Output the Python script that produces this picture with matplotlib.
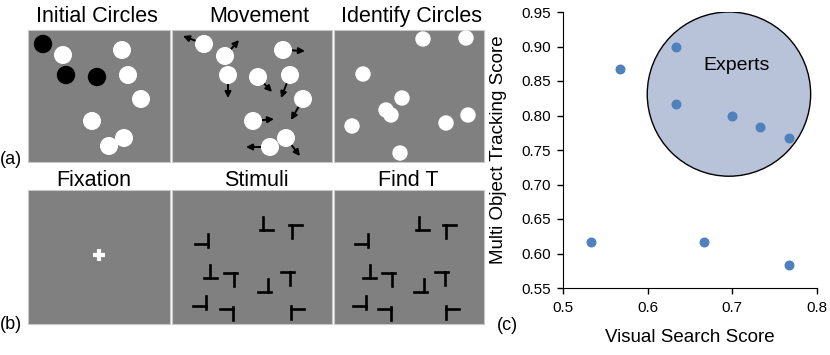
import matplotlib
matplotlib.use("Agg")
import matplotlib.pyplot as plt
from matplotlib.patches import Rectangle, Circle, Ellipse, FancyArrowPatch

plt.rcParams['font.family'] = ['Liberation Sans', 'DejaVu Sans']

# scatter data (panel c)
visual_search = [0.533, 0.567, 0.633, 0.633, 0.667, 0.700, 0.733, 0.767, 0.767]
mot_score = [0.617, 0.867, 0.900, 0.817, 0.617, 0.800, 0.783, 0.767, 0.583]
x_ticks = [0.5, 0.6, 0.7, 0.8]
y_ticks = [0.55, 0.60, 0.65, 0.70, 0.75, 0.80, 0.85, 0.90, 0.95]
experts_center = (0.696, 0.831)
experts_size = (0.193, 0.238)

# schematic panels (a) and (b), pixel positions on the 830x355 canvas
panel_x = [(28, 170), (172, 332), (334, 484)]
row_a_y = (30, 162)
row_b_y = (190, 324)
titles_a = ["Initial Circles", "Movement", "Identify Circles"]
titles_b = ["Fixation", "Stimuli", "Find T"]
title_x = [97, 259, 411]

# initial circles: targets in black
init_black_x = [43, 66, 97]
init_black_y = [44, 75, 77]
init_white_x = [63, 122, 128, 141, 92, 124, 109]
init_white_y = [55, 50, 75, 99, 121, 138, 146]

# movement: circle centres and arrow tips
move_x = [204, 225, 228, 258, 283, 290, 303, 253, 286, 270]
move_y = [44, 56, 75, 77, 50, 75, 99, 121, 138, 147]
tip_x = [183, 239, 228, 272, 305, 281, 291, 274, 300, 246]
tip_y = [36, 40, 98, 92, 51, 98, 120, 119, 156, 147]

# identify circles
ident_x = [423, 466, 363, 402, 386, 391, 352, 446, 468, 400]
ident_y = [39, 38, 74, 98, 110, 115, 126, 123, 115, 153]

# fixation cross
fix_x, fix_y = 99, 255

# T / L glyphs in the "Stimuli" panel: bar centre, bar orientation,
# stem direction, stem offset along the bar
glyph_x = [266.5, 295.5, 208, 210, 230.5, 264.5, 287, 206, 233, 291]
glyph_y = [230, 225, 240.5, 278, 273, 292, 272, 302.5, 313, 312.5]
glyph_bar = ['h', 'h', 'v', 'h', 'h', 'h', 'h', 'v', 'v', 'v']
glyph_dir = [-1, 1, -1, -1, 1, -1, 1, -1, -1, 1]
glyph_off = [-3.5, -3.5, 3.5, 0, 3.5, 3.5, 3, 3.5, -4, -3.5]

panel_gray = '#808080'
dot_blue = '#4f81bd'
expert_fill = '#b8c2d9'

fig = plt.figure(figsize=(8.3, 3.55), dpi=100)

# canvas axes in pixel coordinates for the image panels
ax0 = fig.add_axes([0, 0, 1, 1])
ax0.set_xlim(0, 830)
ax0.set_ylim(355, 0)
ax0.axis('off')

for (x0, x1) in panel_x:
    for (y0, y1) in (row_a_y, row_b_y):
        ax0.add_patch(Rectangle((x0, y0), x1 - x0, y1 - y0, facecolor=panel_gray,
                                edgecolor='#c8c8c8', lw=0.8, zorder=1))

for t, tx in zip(titles_a, title_x):
    ax0.text(tx, 22, t, ha='center', va='baseline', fontsize=15.5)
for t, tx in zip(titles_b, title_x):
    ax0.text(tx - 3, 186, t, ha='center', va='baseline', fontsize=15.5)

ax0.text(0, 164, "(a)", ha='left', va='baseline', fontsize=13)
ax0.text(0, 329, "(b)", ha='left', va='baseline', fontsize=13)

# initial circles
for x, y in zip(init_white_x, init_white_y):
    ax0.add_patch(Circle((x, y), 8.3, color='white', zorder=3))
for x, y in zip(init_black_x, init_black_y):
    ax0.add_patch(Circle((x, y), 8.5, color='black', zorder=3))

# movement
for x, y, ex, ey in zip(move_x, move_y, tip_x, tip_y):
    ax0.add_patch(FancyArrowPatch((x, y), (ex, ey), arrowstyle='-|>', mutation_scale=9,
                                  color='black', lw=1.4, shrinkA=0, shrinkB=0, zorder=2))
    ax0.add_patch(Circle((x, y), 8.3, color='white', zorder=3))

# identify
for x, y in zip(ident_x, ident_y):
    ax0.add_patch(Circle((x, y), 7, color='white', zorder=3))

# fixation
ax0.plot([fix_x - 6, fix_x + 6], [fix_y, fix_y], color='white', lw=3, zorder=3,
         solid_capstyle='butt')
ax0.plot([fix_x, fix_x], [fix_y - 6, fix_y + 6], color='white', lw=3, zorder=3,
         solid_capstyle='butt')


def draw_glyphs(xmap):
    half = 6.5
    stem = 13
    for gx, gy, b, d, o in zip(glyph_x, glyph_y, glyph_bar, glyph_dir, glyph_off):
        cx = xmap(gx)
        if b == 'h':
            ax0.plot([cx - half, cx + half], [gy, gy], color='black', lw=1.9, zorder=3)
            ax0.plot([cx + o, cx + o], [gy, gy + d * stem], color='black', lw=1.9, zorder=3)
        else:
            ax0.plot([cx, cx], [gy - half, gy + half], color='black', lw=1.9, zorder=3)
            ax0.plot([cx, cx + d * stem], [gy + o, gy + o], color='black', lw=1.9, zorder=3)


draw_glyphs(lambda v: v)
draw_glyphs(lambda v: 334 + (v - 172) * 150 / 160)

# scatter panel (c)
ax = fig.add_axes([563 / 830, 1 - 288 / 355, 254 / 830, 276 / 355])
ax.add_patch(Ellipse(experts_center, experts_size[0], experts_size[1],
                     facecolor=expert_fill, edgecolor='black', lw=1, zorder=1))
ax.scatter(visual_search, mot_score, s=38, color=dot_blue, zorder=3)
ax.text(0.705, 0.873, "Experts", fontsize=14, ha='center', va='center', zorder=4)
ax.set_xlim(0.5, 0.8)
ax.set_ylim(0.55, 0.95)
ax.set_xticks(x_ticks)
ax.set_xticklabels([f"{v:g}" for v in x_ticks])
ax.set_yticks(y_ticks)
ax.set_yticklabels([f"{v:.2f}" for v in y_ticks])
ax.tick_params(direction='out', length=4, width=1, labelsize=11, pad=5)
ax.spines['top'].set_visible(False)
ax.spines['right'].set_visible(False)
ax.set_xlabel("Visual Search Score", fontsize=13.5)
ax.set_ylabel("Multi Object Tracking Score", fontsize=13.5)
ax.xaxis.set_label_coords(0.5, -0.15)
ax.yaxis.set_label_coords(-0.22, 0.5)

fig.text(497 / 830, 1 - 330 / 355, "(c)", fontsize=13, ha='left', va='baseline')

fig.savefig("out.png", dpi=100)
